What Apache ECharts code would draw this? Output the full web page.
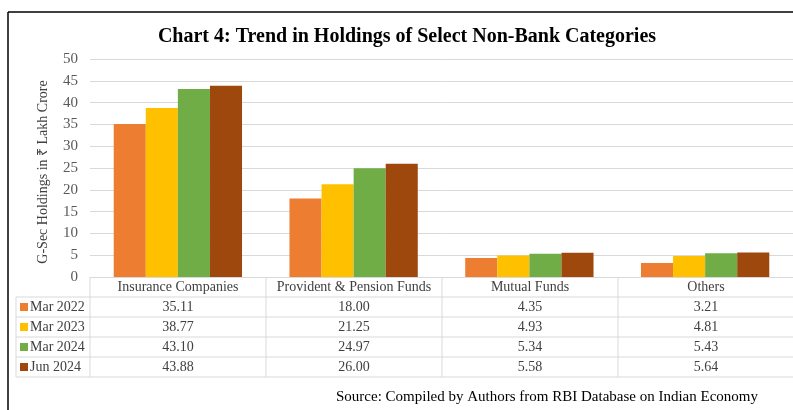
<!DOCTYPE html>
<html><head><meta charset="utf-8">
<script src="https://cdn.jsdelivr.net/npm/echarts@6/dist/echarts.min.js"></script>
<style>html,body{margin:0;padding:0;background:#fff}#c{width:793px;height:410px}</style>
</head><body><div id="c"></div>
<script>
var categories = ["Insurance Companies", "Provident & Pension Funds", "Mutual Funds", "Others"];
var seriesNames = ["Mar 2022", "Mar 2023", "Mar 2024", "Jun 2024"];
var mar2022 = [35.11, 18.00, 4.35, 3.21];
var mar2023 = [38.77, 21.25, 4.93, 4.81];
var mar2024 = [43.10, 24.97, 5.34, 5.43];
var jun2024 = [43.88, 26.00, 5.58, 5.64];
var seriesData = [mar2022, mar2023, mar2024, jun2024];
var colors = ["#ED7D31", "#FFC000", "#70AD47", "#9E480E"];
var yTicks = [0, 5, 10, 15, 20, 25, 30, 35, 40, 45, 50];

var FONT = "'Liberation Serif','Times New Roman',serif";
var G = {left: 90, top: 59, width: 704, height: 218};
var rowH = 20, legLeft = 16, tableLine = "#d9d9d9", textCol = "#404040";
var catW = G.width / categories.length;
var axisY = G.top + G.height;

var chart = echarts.init(document.getElementById('c'), null, {renderer: 'canvas'});

var graphics = [];
graphics.push({type: 'line', shape: {x1: 8, y1: 12, x2: 8, y2: 410}, style: {stroke: '#000', lineWidth: 1.5}, z: 10});
graphics.push({type: 'line', shape: {x1: 8, y1: 12, x2: 793, y2: 12}, style: {stroke: '#000', lineWidth: 1.5}, z: 10});

var nRows = seriesNames.length;
var tableBottom = axisY + rowH * (nRows + 1);
for (var r = 1; r <= nRows + 1; r++) {
  var yy = axisY + r * rowH;
  graphics.push({type: 'line', shape: {x1: legLeft, y1: yy, x2: G.left + G.width, y2: yy}, style: {stroke: tableLine, lineWidth: 1}});
}
graphics.push({type: 'line', shape: {x1: legLeft, y1: axisY + rowH, x2: legLeft, y2: tableBottom}, style: {stroke: tableLine, lineWidth: 1}});
for (var c = 0; c <= categories.length; c++) {
  var xx = G.left + c * catW;
  graphics.push({type: 'line', shape: {x1: xx, y1: axisY, x2: xx, y2: tableBottom}, style: {stroke: tableLine, lineWidth: 1}});
}
categories.forEach(function (name, i) {
  graphics.push({type: 'text', x: G.left + (i + 0.5) * catW, y: axisY + rowH / 2,
    style: {text: name, font: '14px ' + FONT, fill: textCol, align: 'center', verticalAlign: 'middle'}});
});
seriesNames.forEach(function (sn, r) {
  var cy = axisY + (r + 1.5) * rowH;
  graphics.push({type: 'rect', shape: {x: 20, y: cy - 4, width: 8, height: 8}, style: {fill: colors[r]}});
  graphics.push({type: 'text', x: 30, y: cy, style: {text: sn, font: '14px ' + FONT, fill: textCol, align: 'left', verticalAlign: 'middle'}});
  seriesData[r].forEach(function (v, i) {
    graphics.push({type: 'text', x: G.left + (i + 0.5) * catW, y: cy,
      style: {text: v.toFixed(2), font: '14px ' + FONT, fill: textCol, align: 'center', verticalAlign: 'middle'}});
  });
});

var option = {
  animation: false,
  backgroundColor: '#fff',
  title: {
    text: 'Chart 4: Trend in Holdings of Select Non-Bank Categories',
    left: 402, top: 22, textAlign: 'center',
    textStyle: {fontFamily: FONT, fontSize: 20, fontWeight: 'bold', color: '#000'}
  },
  grid: {left: G.left, top: G.top, width: G.width, height: G.height, containLabel: false},
  xAxis: {
    type: 'category', data: categories,
    axisLine: {show: true, lineStyle: {color: tableLine}},
    axisTick: {show: false}, axisLabel: {show: false}
  },
  yAxis: {
    type: 'value', min: yTicks[0], max: yTicks[yTicks.length - 1], interval: 5,
    name: 'G-Sec Holdings in ₹ Lakh Crore', nameLocation: 'middle', nameGap: 40, nameRotate: 90,
    nameTextStyle: {fontFamily: FONT, fontSize: 14, color: textCol, padding: [0, 8, 0, 0]},
    axisLine: {show: false}, axisTick: {show: false},
    axisLabel: {fontFamily: FONT, fontSize: 15, color: '#595959', margin: 12},
    splitLine: {lineStyle: {color: tableLine, width: 1}}
  },
  series: seriesNames.map(function (sn, i) {
    return {name: sn, type: 'bar', data: seriesData[i], barGap: '0%', barCategoryGap: '27%',
      itemStyle: {color: colors[i]}};
  }),
  graphic: graphics.concat([{
    type: 'text', right: 35, top: 390,
    style: {text: 'Source: Compiled by Authors from RBI Database on Indian Economy', font: '15px ' + FONT, fill: '#000'}
  }])
};
chart.setOption(option);
</script></body></html>
